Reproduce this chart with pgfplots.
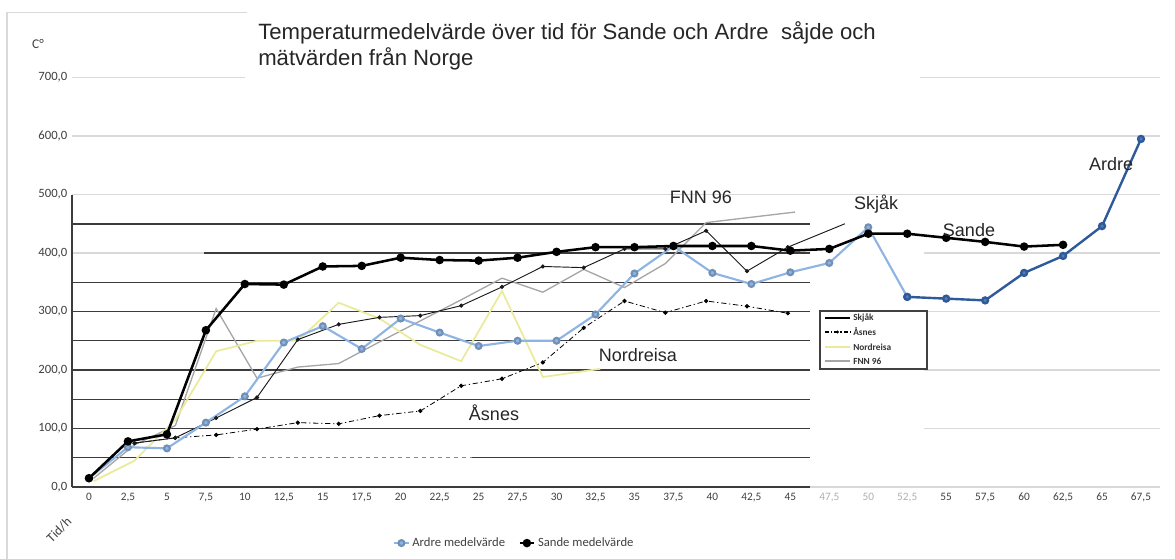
\documentclass[border=0pt]{standalone}
\usepackage{fontspec}
\setmainfont{Carlito}
\newfontfamily\arialf{Liberation Sans}
\usepackage{pgfplots}
\pgfplotsset{compat=1.18}
\definecolor{ardreL}{HTML}{8DB4E2}
\definecolor{ardreD}{HTML}{2F5A9A}
\definecolor{gridL}{HTML}{D9D9D9}
\definecolor{gridD}{HTML}{3C3C3C}
\definecolor{tickc}{HTML}{404040}
\definecolor{tickl}{HTML}{B0B0B0}
\definecolor{nord}{HTML}{EAEA9A}
\definecolor{fnn}{HTML}{A6A6A6}

\begin{document}
\begin{tikzpicture}
\path[use as bounding box] (0,0) rectangle (881.25pt,419.25pt);
\begin{axis}[
  at={(54pt,54pt)}, anchor=south west, scale only axis,
  width=819.75pt, height=307.1pt,
  xmin=-1.09, xmax=69.04, ymin=0, ymax=700,
  clip=false,
  axis line style={draw=none},
  major tick style={draw=none},
  xtick={0,2.5,5,7.5,10,12.5,15,17.5,20,22.5,25,27.5,30,32.5,35,37.5,40,42.5,45,47.5,50,52.5,55,57.5,60,62.5,65,67.5},
  xticklabels={0,{2,5},5,{7,5},10,{12,5},15,{17,5},20,{22,5},25,{27,5},30,{32,5},35,{37,5},40,{42,5},45,{\textcolor{tickl}{47,5}},{\textcolor{tickl}{50}},{\textcolor{tickl}{52,5}},55,{57,5},60,{62,5},65,{67,5}},
  ytick={0,100,200,300,400,500,600,700},
  yticklabels={{0,0},{100,0},{200,0},{300,0},{400,0},{500,0},{600,0},{700,0}},
  xticklabel style={font=\fontsize{8.5}{10}\selectfont, text=tickc, yshift=-1pt},
  yticklabel style={font=\fontsize{9.5}{11}\selectfont, text=tickc},
  legend style={at={(0.405,-0.137)}, anchor=center, draw=none, fill=none,
    font=\fontsize{9.5}{11}\selectfont, text=tickc, legend columns=2,
    /tikz/every even column/.append style={column sep=8pt}},
  legend cell align=left,
  legend image code/.code={\draw[#1] (0cm,0cm) -- (0.38cm,0cm); \draw[#1,only marks] plot coordinates {(0.19cm,0cm)};},
]
% light grid (new chart)
\draw[gridL, line width=1.2pt] (axis cs:-1.09,500) -- (axis cs:68.72,500);
\draw[gridL, line width=1.2pt] (axis cs:-1.09,600) -- (axis cs:68.72,600);
\draw[gridL, line width=1.2pt] (axis cs:-1.09,700) -- (axis cs:10,700);
\draw[gridL, line width=1.2pt] (axis cs:53.3,700) -- (axis cs:68.72,700);
\draw[gridL, line width=1.2pt] (axis cs:-1.09,400) -- (axis cs:7.4,400);
\draw[gridL, line width=1.2pt] (axis cs:53.6,100) -- (axis cs:68.72,100);
\draw[gridL, line width=1.2pt] (axis cs:53.6,200) -- (axis cs:68.72,200);
\draw[gridL, line width=1.2pt] (axis cs:53.6,300) -- (axis cs:68.72,300);
\draw[gridL, line width=1.2pt] (axis cs:53.6,400) -- (axis cs:68.72,400);
\draw[gridL, line width=1.2pt] (axis cs:46.26,0) -- (axis cs:68.72,0);
% dark grid (old chart)
\draw[gridD, line width=1.1pt] (axis cs:-1.09,100) -- (axis cs:46.26,100);
\draw[gridD, line width=1.1pt] (axis cs:-1.09,150) -- (axis cs:46.26,150);
\draw[gridD, line width=1.1pt] (axis cs:-1.09,200) -- (axis cs:46.26,200);
\draw[gridD, line width=1.1pt] (axis cs:-1.09,250) -- (axis cs:46.26,250);
\draw[gridD, line width=1.1pt] (axis cs:-1.09,300) -- (axis cs:46.26,300);
\draw[gridD, line width=1.1pt] (axis cs:-1.09,350) -- (axis cs:46.26,350);
\draw[gridD, line width=1.1pt] (axis cs:-1.09,450) -- (axis cs:46.26,450);
\draw[gridD, line width=1.1pt] (axis cs:7.4,400) -- (axis cs:46.26,400);
\draw[gridD, line width=1.1pt] (axis cs:-1.09,50) -- (axis cs:9.05,50);
\draw[gridD!60, line width=0.9pt, dash pattern=on 3pt off 3pt] (axis cs:9.05,50) -- (axis cs:24.6,50);
\draw[gridD, line width=1.1pt] (axis cs:24.6,50) -- (axis cs:46.26,50);
\draw[gridD, line width=1.3pt] (axis cs:-1.09,0) -- (axis cs:46.26,0);
\draw[gridD, line width=1.3pt] (axis cs:-1.09,0) -- (axis cs:-1.09,500);

% old series
\addplot[forget plot, fnn, line width=1pt] coordinates {
(0.3,15) (2.92,72) (5.54,105) (8.16,305) (10.78,186) (13.4,205) (16.02,211) (18.64,248) (21.26,284) (23.88,320) (26.5,357) (29.12,333) (31.74,372) (34.36,341) (36.98,382) (39.6,452) (45.3,470)};
\addplot[forget plot, nord, line width=1.3pt] coordinates {
(0.3,10) (2.92,45) (5.54,115) (8.16,232) (10.78,250) (13.4,250) (16.02,315) (18.64,288) (21.26,243) (23.88,215) (26.5,335) (29.12,188) (32.8,202)};
\addplot[forget plot, black, line width=0.6pt, dash pattern=on 4pt off 2pt on 1pt off 2pt, mark=*, mark size=1.3pt, mark options={solid}] coordinates {
(2.92,75) (5.54,84) (8.16,89) (10.78,99) (13.4,110) (16.02,108) (18.64,122) (21.26,130) (23.88,173) (26.5,185) (29.12,213) (31.74,272) (34.36,318) (36.98,298) (39.6,318) (42.22,309) (44.84,297)};
\addplot[forget plot, black!90, line width=0.7pt, mark=*, mark size=1.2pt] coordinates {
(2.92,75) (5.54,84) (8.16,118) (10.78,153) (13.4,252) (16.02,278) (18.64,290) (21.26,293) (23.88,310) (26.5,342) (29.12,377) (31.74,375) (34.36,407) (36.98,407) (39.6,438) (42.22,369) (44.84,410)};
\addplot[forget plot, black!90, line width=0.7pt] coordinates {(44.84,410) (48.5,450)};

% new series
\addplot[ardreL, line width=1.6pt, mark=*, mark size=2.2pt, mark options={fill=ardreL, draw=ardreL!80!black}] coordinates {
(0,15) (2.5,68) (5,66) (7.5,110) (10,155) (12.5,247) (15,275) (17.5,236) (20,288) (22.5,264) (25,241) (27.5,250) (30,250) (32.5,295) (35,365) (37.5,412) (40,366) (42.5,347) (45,367) (47.5,383) (50,444) (52.5,325)};
\addlegendentry{Ardre medelvärde}
\addplot[forget plot, ardreD, line width=1.8pt, mark=*, mark size=2.2pt, mark options={fill=ardreD!80}] coordinates {
(52.5,325) (55,322) (57.5,319) (60,366) (62.5,395) (65,446) (67.5,595)};
\addplot[black, line width=1.9pt, mark=*, mark size=2.2pt] coordinates {
(0,15) (2.5,78) (5,90) (7.5,268) (10,347) (12.5,346) (15,377) (17.5,378) (20,392) (22.5,388) (25,387) (27.5,392) (30,402) (32.5,410) (35,410) (37.5,412) (40,412) (42.5,412) (45,404) (47.5,407) (50,433) (52.5,433) (55,426) (57.5,419) (60,411) (62.5,414)};
\addlegendentry{Sande medelvärde}
\end{axis}

\begin{scope}[x=0.75pt, y=-0.75pt, yshift=419.25pt]
% frame remnants
\draw[gridL, line width=1pt] (7,559) -- (7,12.5) -- (247,12.5);
% title
\node[anchor=north west, align=left, inner sep=0pt, text=black!85,
  font=\arialf\fontsize{16.6}{19.8}\selectfont] at (258,21) {Temperaturmedelvärde över tid för Sande och Ardre\ \ såjde och\\mätvärden från Norge};
\node[font=\fontsize{10}{12}\selectfont, text=tickc] at (38,44) {C°};
\node[font=\fontsize{10}{12}\selectfont, text=tickc, rotate=45] at (59,530) {Tid/h};
% annotations
\begin{scope}[every node/.style={font=\arialf\fontsize{13.5}{15}\selectfont, text=black!85}]
\node at (701,197) {FNN 96};
\node at (876,204) {Skjåk};
\node at (638,355) {Nordreisa};
\node at (494,413) {Åsnes};
\node at (969,230) {Sande};
\node at (1111,164) {Ardre};
\end{scope}
% old legend
\draw[black!75, line width=0.9pt, fill=white] (820,311) rectangle (927,369);
\draw[black, line width=0.8pt] (825,318) -- (850,318);
\draw[black, line width=0.8pt, dash pattern=on 3pt off 1.5pt on 1pt off 1.5pt] (825,332) -- (850,332);
\fill[black] (837.5,332) circle (1.6);
\draw[nord, line width=1pt] (825,347) -- (850,347);
\draw[fnn, line width=1pt] (825,361) -- (850,361);
\begin{scope}[every node/.style={anchor=west, inner sep=0pt, font=\bfseries\fontsize{7}{8}\selectfont, text=black!80}]
\node at (853,318) {Skjåk};
\node at (853,332) {Åsnes};
\node at (853,347) {Nordreisa};
\node at (853,361) {FNN 96};
\end{scope}
\end{scope}
\end{tikzpicture}
\end{document}
